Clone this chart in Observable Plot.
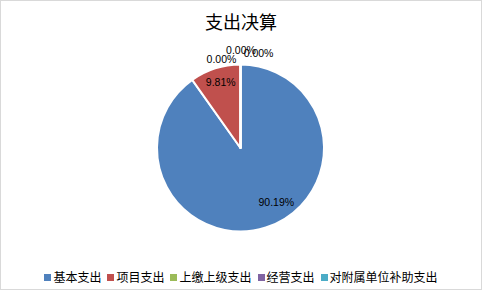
<!DOCTYPE html>
<html>
<head>
<meta charset="utf-8">
<script src="https://cdn.jsdelivr.net/npm/d3@7"></script>
<script src="https://cdn.jsdelivr.net/npm/@observablehq/plot@0.6"></script>
<style>
  html, body { margin: 0; padding: 0; background: #fff; }
  #chart { position: relative; width: 482px; height: 290px; background: #fff;
           outline: 1px solid #d9d9d9; outline-offset: -1px; overflow: hidden; }
  #title { height: 38px; box-sizing: border-box; padding-top: 12px; line-height: 18px;
           text-align: center; font-size: 18px; color: #000;
           font-family: "Noto Sans CJK SC", sans-serif; }
  #plot svg { display: block; }
  #legend { height: 34px; box-sizing: border-box; padding-top: 8px; line-height: 12px;
            display: flex; justify-content: center; align-items: center;
            font-size: 12px; color: #000; font-family: "Noto Sans CJK SC", sans-serif; }
  .item { display: flex; align-items: center; margin: 0 3px; }
  .sw { width: 7px; height: 7px; margin-right: 2px; }
</style>
</head>
<body>
<div id="chart">
  <div id="title">支出决算</div>
  <div id="plot"></div>
  <div id="legend"></div>
</div>
<script>
const categories = ["基本支出", "项目支出", "上缴上级支出", "经营支出", "对附属单位补助支出"];
const values = [90.19, 9.81, 0.00, 0.00, 0.00];
const colors = ["#4F81BD", "#C0504D", "#9BBB59", "#8064A2", "#4BACC6"];
// label placement tweaks (in radius units), layout only
const labelRadius = [0.8, 0.8, 1.1, 1.1, 1.1];
const labelNudge = [[0.18, 0.115], [0, 0.03], [-0.234, -0.034], [0, 0.074], [0.21, 0.038]];

const arcs = d3.pie().sort(null).value(d => d.value)(
  categories.map((c, i) => ({category: c, value: values[i], color: colors[i], i}))
);
const labels = arcs.map((a, i) => {
  const mid = (a.startAngle + a.endAngle) / 2;
  return {
    text: values[i].toFixed(2) + "%",
    x: labelRadius[i] * Math.sin(mid) + labelNudge[i][0],
    y: labelRadius[i] * Math.cos(mid) + labelNudge[i][1]
  };
});

function pieMark(index, scales, values, dimensions) {
  const cx = scales.x(0), cy = scales.y(0);
  const r = scales.x(1) - scales.x(0);
  const g = d3.create("svg:g").attr("transform", `translate(${cx},${cy})`);
  const arc = d3.arc().innerRadius(0).outerRadius(r);
  g.selectAll("path").data(arcs).join("path")
    .attr("d", arc)
    .attr("fill", d => d.data.color)
    .attr("stroke", "#fff")
    .attr("stroke-width", 2)
    .attr("stroke-linejoin", "round");
  return g.node();
}

const plot = Plot.plot({
  width: 482,
  height: 218,
  marginLeft: 157,
  marginRight: 158,
  marginTop: 27,
  marginBottom: 25,
  x: {domain: [-1, 1], axis: null},
  y: {domain: [-1, 1], axis: null},
  style: {background: "transparent", overflow: "visible"},
  marks: [
    pieMark,
    Plot.text(labels, {x: "x", y: "y", text: "text", fill: "#000",
      fontSize: 10.5, fontFamily: "Liberation Sans, Arial, sans-serif"})
  ]
});
document.getElementById("plot").appendChild(plot);

const legend = document.getElementById("legend");
categories.forEach((c, i) => {
  const item = document.createElement("div");
  item.className = "item";
  const sw = document.createElement("span");
  sw.className = "sw";
  sw.style.background = colors[i];
  const t = document.createElement("span");
  t.textContent = c;
  item.appendChild(sw);
  item.appendChild(t);
  legend.appendChild(item);
});
</script>
</body>
</html>
